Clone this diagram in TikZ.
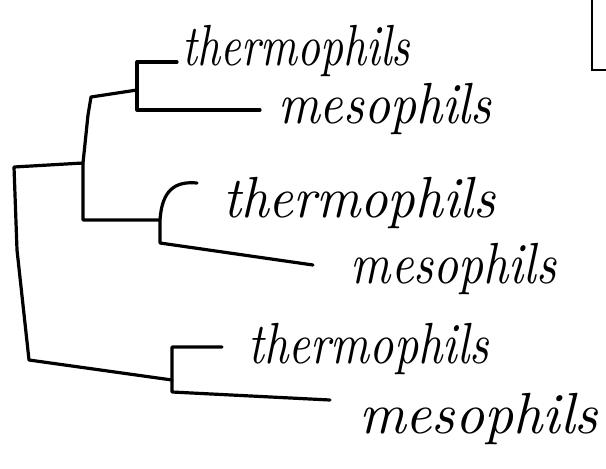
\documentclass[tikz,border=0pt]{standalone}
\begin{document}
\begin{tikzpicture}[x=1pt,y=-1pt,
  branch/.style={line width=3.2pt, line cap=round, line join=round},
  leaf/.style={anchor=base west, inner sep=0pt, font=\fontsize{10}{12}\selectfont\itshape, yscale=5.8}]
\useasboundingbox (0,0) rectangle (606,469);

% internal nodes of the tree
\coordinate (root) at (14,167);
\coordinate (rootlow) at (29,360);
\coordinate (up) at (83,163);
\coordinate (c1) at (137,90);
\coordinate (c2) at (160,220);
\coordinate (c3) at (172,380);

% leaf labels
\node[leaf, xscale=4.5] (t1) at (182,65) {thermophils};
\node[leaf, xscale=5.1] (m1) at (277,123) {mesophils};
\node[leaf, xscale=5.4] (t2) at (222,217) {thermophils};
\node[leaf, xscale=4.9] (m2) at (350,283) {mesophils};
\node[leaf, xscale=4.75] (t3) at (248,363) {thermophils};
\node[leaf, xscale=5.7] (m3) at (358,433) {mesophils};

% root and its two children
\draw[branch] (up) -- (root) -- (17,250) -- (rootlow) -- (c3);
\draw[branch] (c1) -- (91,97) -- (88,115) -- (up) -- (83,220) -- (c2);

% first clade
\draw[branch] (177,62) -- (137,62) -- (c1) -- (137,110) -- (260,110);

% second clade
\draw[branch] (197,183) .. controls (175,181) and (162,190) .. (c2) -- (160,243) -- (313,265);

% third clade
\draw[branch] (222,347) -- (172,347) -- (c3) -- (172,392) -- (330,400);

% corner of the frame at the upper right
\draw[line width=2.4pt] (592,-2) -- (592,70) -- (608,70);
\end{tikzpicture}
\end{document}
